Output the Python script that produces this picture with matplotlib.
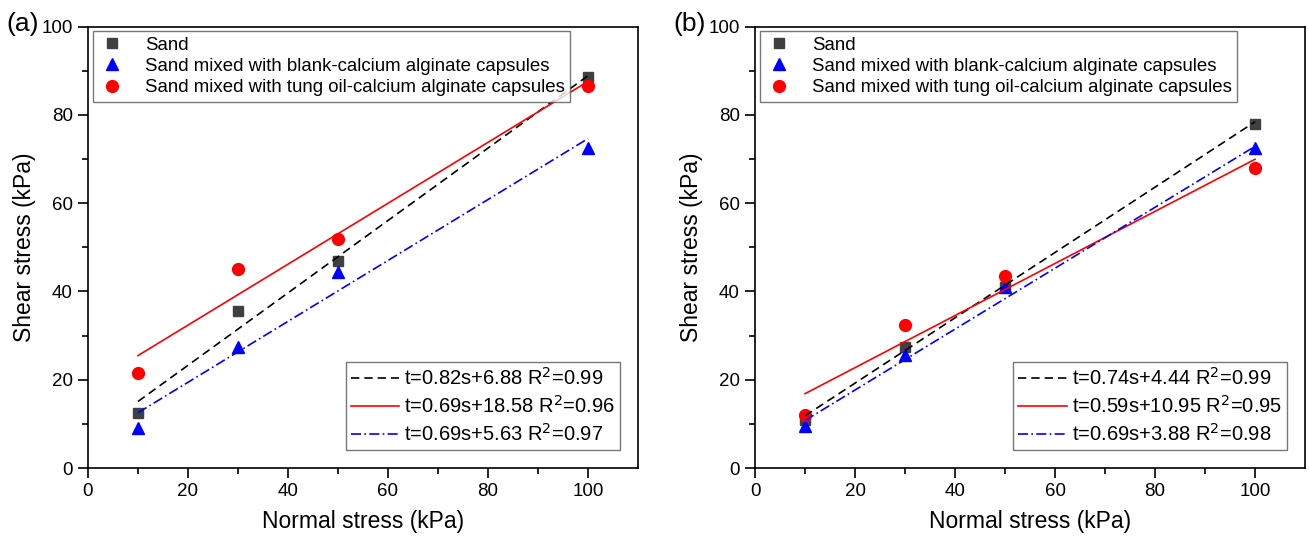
import matplotlib.pyplot as plt
import numpy as np

plt.rcParams['font.family'] = ['Liberation Sans', 'DejaVu Sans']

normal = [10, 30, 50, 100]

# panel (a)
sand_a = [12.5, 35.5, 47.0, 88.5]
blank_a = [9.0, 27.5, 44.5, 72.5]
tung_a = [21.5, 45.0, 52.0, 86.5]
fits_a = [(0.82, 6.88, 0.99), (0.69, 18.58, 0.96), (0.69, 5.63, 0.97)]

# panel (b)
sand_b = [11.0, 27.5, 41.0, 78.0]
blank_b = [9.5, 25.5, 41.0, 72.5]
tung_b = [12.0, 32.5, 43.5, 68.0]
fits_b = [(0.74, 4.44, 0.99), (0.59, 10.95, 0.95), (0.69, 3.88, 0.98)]

names = ["Sand", "Sand mixed with blank-calcium alginate capsules",
         "Sand mixed with tung oil-calcium alginate capsules"]


def draw(ax, sand, blank, tung, fits, tag):
    h1, = ax.plot(normal, sand, 's', color='#404040', ms=7, ls='none')
    h2, = ax.plot(normal, blank, '^', color='#0000ff', ms=8.5, ls='none')
    h3, = ax.plot(normal, tung, 'o', color='#ff0000', ms=8.5, ls='none')
    xs = np.array([10, 100])
    styles = [dict(color='black', ls=(0, (5, 3))),
              dict(color='#ff0000', ls='-'),
              dict(color='#0000ff', ls=(0, (6, 2, 1, 2)))]
    lines = []
    for (k, b, r2), st in zip(fits, styles):
        ln, = ax.plot(xs, k * xs + b, lw=1.2, **st)
        lines.append(ln)
    leg1 = ax.legend([h1, h2, h3], names, loc='upper left', fontsize=13.4,
                     fancybox=False, edgecolor='#555555', handletextpad=1.0,
                     borderaxespad=0.25, labelspacing=0.22, handlelength=1.5,
                     borderpad=0.3)
    ax.add_artist(leg1)
    labels = [f"t={k:.2f}s+{b:.2f} R$^2$={r2:.2f}" for k, b, r2 in fits]
    ax.legend(lines, labels, loc='lower right', fontsize=14.5,
              fancybox=False, edgecolor='#555555', handlelength=2.4,
              handletextpad=0.25, labelspacing=0.3, borderaxespad=0.9,
              borderpad=0.25)
    ax.set_xlim(0, 110)
    ax.set_ylim(0, 100)
    ax.set_xticks([0, 20, 40, 60, 80, 100])
    ax.set_xticks(range(10, 110, 20), minor=True)
    ax.set_yticks([0, 20, 40, 60, 80, 100])
    ax.set_yticks(range(10, 100, 20), minor=True)
    ax.tick_params(which='major', direction='out', length=7, labelsize=13.5,
                   width=1.2, pad=4)
    ax.tick_params(which='minor', direction='out', length=4, width=1.2)
    for s in ax.spines.values():
        s.set_linewidth(1.2)
    ax.set_xlabel("Normal stress (kPa)", fontsize=16.5, labelpad=7)
    ax.set_ylabel("Shear stress (kPa)", fontsize=16.5, labelpad=4)
    ax.text(-0.148, 1.006, tag, transform=ax.transAxes, fontsize=19,
            ha='left', va='center')


fig = plt.figure(figsize=(13.09, 5.43), dpi=100)
ax1 = fig.add_axes([0.0672, 0.138, 0.4202, 0.813])
ax2 = fig.add_axes([0.5768, 0.138, 0.4202, 0.813])
draw(ax1, sand_a, blank_a, tung_a, fits_a, "(a)")
draw(ax2, sand_b, blank_b, tung_b, fits_b, "(b)")
fig.savefig("out.png", dpi=100)
